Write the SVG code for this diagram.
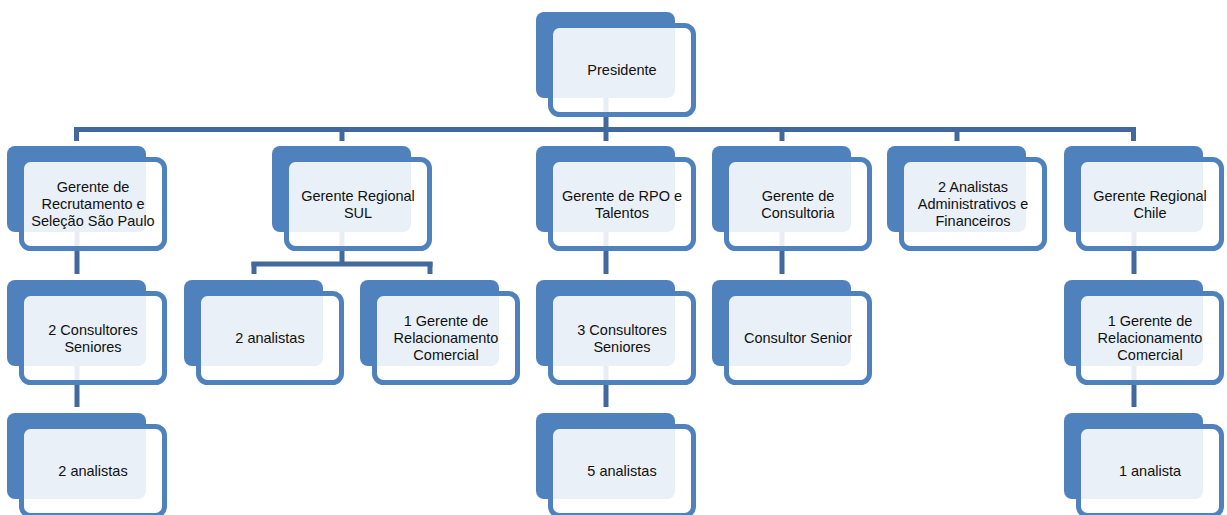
<svg xmlns="http://www.w3.org/2000/svg" width="1227" height="515" viewBox="0 0 1227 515">
<style>
.bk{fill:#4F81BD}
.fr{fill:#FFFFFF;fill-opacity:0.88;stroke:#4F81BD;stroke-width:5}
.cn{stroke:#41699D;stroke-width:5;fill:none}
text{font-family:"Liberation Sans",Arial,sans-serif;font-size:14.5px;fill:#111;text-anchor:middle}
</style>
<rect width="1227" height="515" fill="#FFFFFF"/>
<g id="connectors">
<line class="cn" x1="606" y1="60" x2="606" y2="129.5"/>
<line class="cn" x1="74" y1="129.5" x2="1136" y2="129.5"/>
<line class="cn" x1="76.5" y1="127" x2="76.5" y2="141"/>
<line class="cn" x1="342" y1="127" x2="342" y2="141"/>
<line class="cn" x1="782" y1="127" x2="782" y2="141"/>
<line class="cn" x1="957" y1="127" x2="957" y2="141"/>
<line class="cn" x1="1133.5" y1="127" x2="1133.5" y2="141"/>
<line class="cn" x1="606" y1="127" x2="606" y2="141"/>
<line class="cn" x1="342" y1="189" x2="342" y2="264"/>
<line class="cn" x1="251.5" y1="264" x2="432.5" y2="264"/>
<line class="cn" x1="254" y1="262" x2="254" y2="274"/>
<line class="cn" x1="430" y1="262" x2="430" y2="274"/>
<line class="cn" x1="77" y1="189" x2="77" y2="274"/>
<line class="cn" x1="77" y1="323" x2="77" y2="407"/>
<line class="cn" x1="606" y1="189" x2="606" y2="274"/>
<line class="cn" x1="606" y1="323" x2="606" y2="407"/>
<line class="cn" x1="782" y1="189" x2="782" y2="274"/>
<line class="cn" x1="1134" y1="189" x2="1134" y2="274"/>
<line class="cn" x1="1134" y1="323" x2="1134" y2="407"/>
</g>
<g id="president">
<rect class="bk" x="536" y="12" width="139" height="86" rx="8"/>
<rect class="fr" x="550.5" y="25.5" width="143" height="89" rx="9"/>
<text x="622" y="75">Presidente</text>
</g>
<g id="n_sp">
<rect class="bk" x="7" y="146" width="139" height="86" rx="8"/>
<rect class="fr" x="21.5" y="159.5" width="143" height="89" rx="9"/>
<text x="93" y="192">Gerente de</text>
<text x="93" y="209">Recrutamento e</text>
<text x="93" y="226">Seleção São Paulo</text>
</g>
<g id="n_sul">
<rect class="bk" x="272" y="146" width="139" height="86" rx="8"/>
<rect class="fr" x="286.5" y="159.5" width="143" height="89" rx="9"/>
<text x="358" y="200.5">Gerente Regional</text>
<text x="358" y="217.5">SUL</text>
</g>
<g id="n_rpo">
<rect class="bk" x="536" y="146" width="139" height="86" rx="8"/>
<rect class="fr" x="550.5" y="159.5" width="143" height="89" rx="9"/>
<text x="622" y="200.5">Gerente de RPO e</text>
<text x="622" y="217.5">Talentos</text>
</g>
<g id="n_cons">
<rect class="bk" x="712" y="146" width="139" height="86" rx="8"/>
<rect class="fr" x="726.5" y="159.5" width="143" height="89" rx="9"/>
<text x="798" y="200.5">Gerente de</text>
<text x="798" y="217.5">Consultoria</text>
</g>
<g id="n_adm">
<rect class="bk" x="887" y="146" width="139" height="86" rx="8"/>
<rect class="fr" x="901.5" y="159.5" width="143" height="89" rx="9"/>
<text x="973" y="192">2 Analistas</text>
<text x="973" y="209">Administrativos e</text>
<text x="973" y="226">Financeiros</text>
</g>
<g id="n_chile">
<rect class="bk" x="1064" y="146" width="139" height="86" rx="8"/>
<rect class="fr" x="1078.5" y="159.5" width="143" height="89" rx="9"/>
<text x="1150" y="200.5">Gerente Regional</text>
<text x="1150" y="217.5">Chile</text>
</g>
<g id="n_sp_cons">
<rect class="bk" x="7" y="280" width="139" height="86" rx="8"/>
<rect class="fr" x="21.5" y="293.5" width="143" height="89" rx="9"/>
<text x="93" y="334.5">2 Consultores</text>
<text x="93" y="351.5">Seniores</text>
</g>
<g id="n_sul_an">
<rect class="bk" x="184" y="280" width="139" height="86" rx="8"/>
<rect class="fr" x="198.5" y="293.5" width="143" height="89" rx="9"/>
<text x="270" y="343">2 analistas</text>
</g>
<g id="n_sul_rel">
<rect class="bk" x="360" y="280" width="139" height="86" rx="8"/>
<rect class="fr" x="374.5" y="293.5" width="143" height="89" rx="9"/>
<text x="446" y="326">1 Gerente de</text>
<text x="446" y="343">Relacionamento</text>
<text x="446" y="360">Comercial</text>
</g>
<g id="n_rpo_cons">
<rect class="bk" x="536" y="280" width="139" height="86" rx="8"/>
<rect class="fr" x="550.5" y="293.5" width="143" height="89" rx="9"/>
<text x="622" y="334.5">3 Consultores</text>
<text x="622" y="351.5">Seniores</text>
</g>
<g id="n_cons_sr">
<rect class="bk" x="712" y="280" width="139" height="86" rx="8"/>
<rect class="fr" x="726.5" y="293.5" width="143" height="89" rx="9"/>
<text x="798" y="343">Consultor Senior</text>
</g>
<g id="n_chile_rel">
<rect class="bk" x="1064" y="280" width="139" height="86" rx="8"/>
<rect class="fr" x="1078.5" y="293.5" width="143" height="89" rx="9"/>
<text x="1150" y="326">1 Gerente de</text>
<text x="1150" y="343">Relacionamento</text>
<text x="1150" y="360">Comercial</text>
</g>
<g id="n_sp_an">
<rect class="bk" x="7" y="413" width="139" height="86" rx="8"/>
<rect class="fr" x="21.5" y="426.5" width="143" height="89" rx="9"/>
<text x="93" y="476">2 analistas</text>
</g>
<g id="n_rpo_an">
<rect class="bk" x="536" y="413" width="139" height="86" rx="8"/>
<rect class="fr" x="550.5" y="426.5" width="143" height="89" rx="9"/>
<text x="622" y="476">5 analistas</text>
</g>
<g id="n_chile_an">
<rect class="bk" x="1064" y="413" width="139" height="86" rx="8"/>
<rect class="fr" x="1078.5" y="426.5" width="143" height="89" rx="9"/>
<text x="1150" y="476">1 analista</text>
</g>
</svg>
